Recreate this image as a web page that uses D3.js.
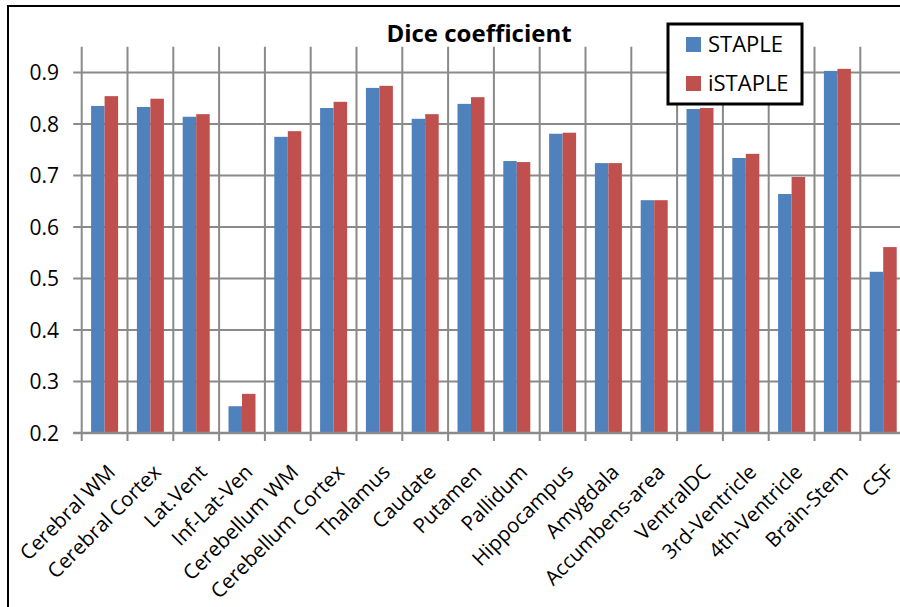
<!DOCTYPE html>
<html><head><meta charset="utf-8">
<script src="https://cdn.jsdelivr.net/npm/d3@7"></script>
<style>html,body{margin:0;padding:0;background:#fff;overflow:hidden}svg{display:block}</style>
</head><body>
<script>
const categories = ["Cerebral WM","Cerebral Cortex","Lat.Vent","Inf-Lat-Ven","Cerebellum WM","Cerebellum Cortex","Thalamus","Caudate","Putamen","Pallidum","Hippocampus","Amygdala","Accumbens-area","VentralDC","3rd-Ventricle","4th-Ventricle","Brain-Stem","CSF"];
const seriesNames = ["STAPLE","iSTAPLE"];
const staple  = [0.835,0.833,0.814,0.252,0.775,0.831,0.870,0.810,0.839,0.728,0.781,0.724,0.652,0.829,0.734,0.664,0.903,0.513];
const istaple = [0.854,0.849,0.819,0.276,0.786,0.843,0.874,0.819,0.852,0.726,0.783,0.724,0.652,0.831,0.742,0.697,0.907,0.561];
const yTicks = [0.2,0.3,0.4,0.5,0.6,0.7,0.8,0.9];
const colors = ["#4F81BD","#C0504D"];
const title = "Dice coefficient";

const W = 900, H = 607;
const FONT = "'Open Sans', Lato, sans-serif";
const svg = d3.select("body").append("svg").attr("width", W).attr("height", H);
svg.append("rect").attr("width", W).attr("height", H).attr("fill", "#fff");

const plotLeft = 81.7, catW = 45.8, plotTop = 46.7, plotBottom = 433;
const x = d3.scaleBand().domain(categories).range([plotLeft, plotLeft + catW * categories.length]).padding(0);
const y = d3.scaleLinear().domain([0.2, 0.95]).range([plotBottom, plotTop]);
const xs = d3.scaleBand().domain(seriesNames).range([-13.5, 13.5]).padding(0);
const grid = "#8a8a8a";

// horizontal gridlines + y ticks
svg.append("g").selectAll("line").data(yTicks).join("line")
  .attr("x1", plotLeft - 8.5).attr("x2", W + 10)
  .attr("y1", d => y(d)).attr("y2", d => y(d))
  .attr("stroke", grid).attr("stroke-width", 2);
// vertical gridlines (category boundaries) incl. tick extension
const bounds = categories.map(c => x(c)).concat([x.range()[1]]);
svg.append("g").selectAll("line").data(bounds).join("line")
  .attr("x1", d => d).attr("x2", d => d)
  .attr("y1", plotTop).attr("y2", plotBottom + 8)
  .attr("stroke", grid).attr("stroke-width", 2);

// bars
const series = [staple, istaple];
series.forEach((vals, si) => {
  svg.append("g").selectAll("rect").data(categories).join("rect")
    .attr("x", c => x(c) + x.bandwidth() / 2 + xs(seriesNames[si]))
    .attr("width", xs.bandwidth())
    .attr("y", (c, i) => y(vals[i]))
    .attr("height", (c, i) => y(0.2) - y(vals[i]))
    .attr("fill", colors[si]);
});

// x axis line
svg.append("line").attr("x1", plotLeft - 8.5).attr("x2", W + 10)
  .attr("y1", plotBottom).attr("y2", plotBottom).attr("stroke", grid).attr("stroke-width", 2.5);

// y tick labels
svg.append("g").selectAll("text").data(yTicks).join("text")
  .attr("x", 59).attr("y", d => y(d)).attr("dy", "0.36em")
  .attr("text-anchor", "end").attr("font-family", FONT).attr("font-size", 21)
  .attr("fill", "#000").text(d => d.toFixed(1));

// x labels
svg.append("g").selectAll("text").data(categories).join("text")
  .attr("transform", c => `translate(${x(c) + x.bandwidth() / 2 + 1.5},${463}) rotate(-45)`)
  .attr("dy", "0.72em")
  .attr("text-anchor", "end").attr("font-family", FONT).attr("font-size", 20.5)
  .attr("fill", "#000").text(c => c);

// title
svg.append("text").attr("x", 479).attr("y", 42).attr("text-anchor", "middle")
  .attr("font-family", FONT).attr("font-weight", "bold").attr("font-size", 24)
  .attr("fill", "#000").text(title);

// legend
const lg = svg.append("g");
lg.append("rect").attr("x", 668).attr("y", 24).attr("width", 134).attr("height", 80)
  .attr("fill", "#fff").attr("stroke", "#000").attr("stroke-width", 3);
seriesNames.forEach((s, i) => {
  lg.append("rect").attr("x", 686).attr("y", 37 + i * 39).attr("width", 15).attr("height", 15).attr("fill", colors[i]);
  lg.append("text").attr("x", 708).attr("y", 44.5 + i * 39).attr("dy", "0.36em")
    .attr("font-family", FONT).attr("font-size", 22).attr("fill", "#000").text(s);
});

// outer chart border
svg.append("rect").attr("x", 8).attr("y", 6).attr("width", W + 20).attr("height", H + 20)
  .attr("fill", "none").attr("stroke", "#000").attr("stroke-width", 2);
</script>
</body></html>
